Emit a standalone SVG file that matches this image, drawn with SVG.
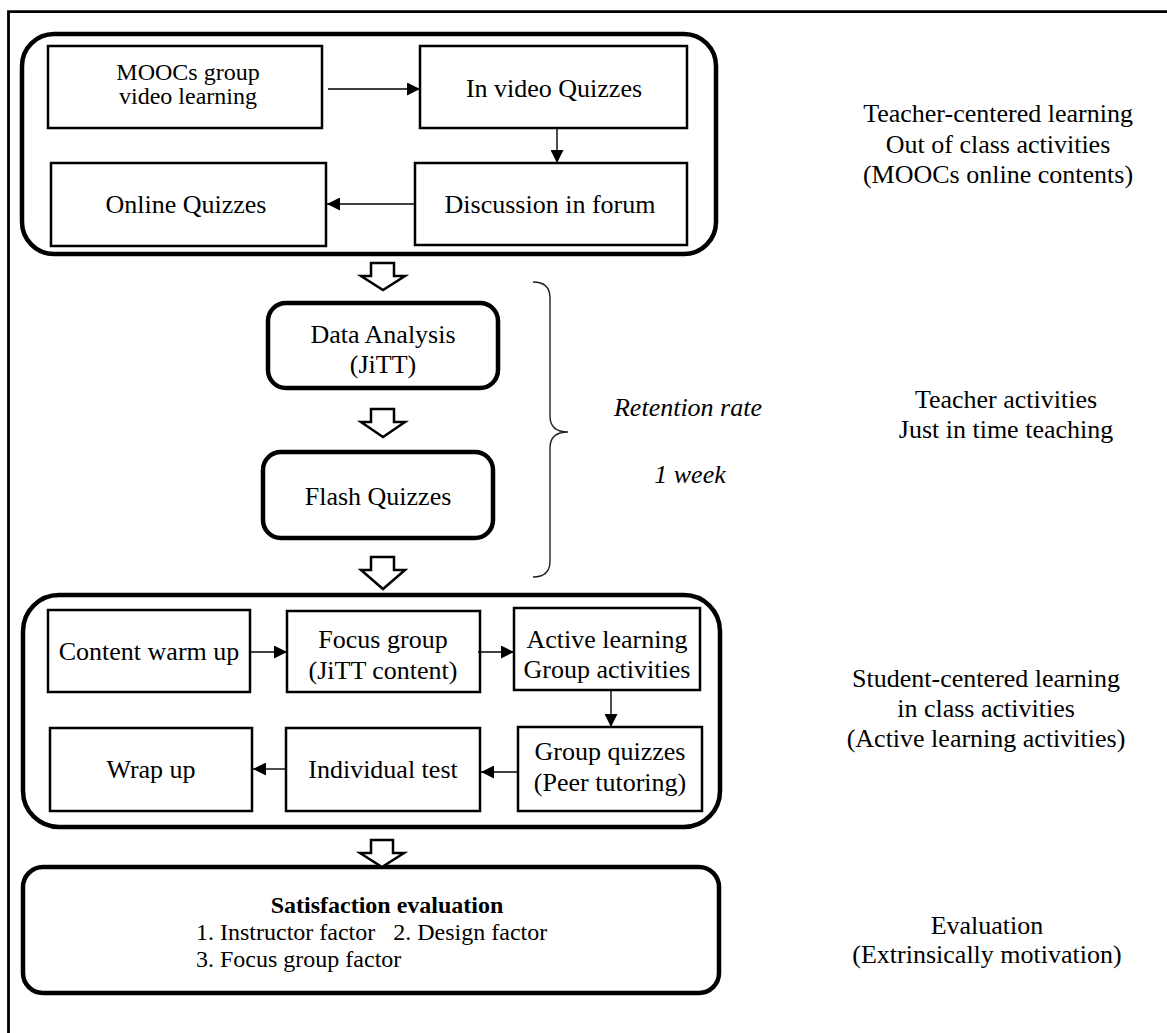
<svg xmlns="http://www.w3.org/2000/svg" width="1167" height="1033" viewBox="0 0 1167 1033">
  <defs>
    <marker id="ah" viewBox="0 0 10 10" refX="10" refY="5" markerWidth="15" markerHeight="13" markerUnits="userSpaceOnUse" orient="auto">
      <path d="M0,0 L10,5 L0,10 Z" fill="#000"/>
    </marker>
    <style>
      text { font-family: "Liberation Serif", "Times New Roman", serif; font-size: 26px; fill: #000; }
      .c { text-anchor: middle; }
      .it { font-style: italic; }
      .b { font-weight: bold; font-size: 24px; }
      .s24 { font-size: 24px; }
      .box { fill: #fff; stroke: #000; stroke-width: 2.5; }
      .rbox { fill: #fff; stroke: #000; stroke-width: 4.5; }
      .cont { fill: none; stroke: #000; stroke-width: 4.5; }
      .link { fill: none; stroke: #000; stroke-width: 1.4; marker-end: url(#ah); }
      .hollow { fill: #fff; stroke: #000; stroke-width: 2.5; stroke-linejoin: miter; }
      .brace { fill: none; stroke: #222; stroke-width: 1.4; }
    </style>
  </defs>

  <rect width="1167" height="1033" fill="#fff"/>

  <!-- page frame (top and left edges) -->
  <path d="M8.5,1033 L8.5,11.7 L1167,11.7" fill="none" stroke="#000" stroke-width="2.8"/>

  <!-- section containers -->
  <rect id="out-of-class" class="cont" x="22" y="34" width="694" height="220" rx="32" ry="32"/>
  <rect id="in-class" class="cont" x="23" y="595" width="697" height="232" rx="36" ry="36"/>

  <!-- out of class activities -->
  <g id="moocs-video">
    <rect class="box" x="48" y="46" width="274" height="82"/>
    <text class="c" x="188" y="80" style="font-size:24px">MOOCs group</text>
    <text class="c" x="188" y="104" style="font-size:24px">video learning</text>
  </g>
  <g id="in-video-quizzes">
    <rect class="box" x="420" y="46" width="267" height="82"/>
    <text class="c" x="554" y="97">In video Quizzes</text>
  </g>
  <g id="discussion-forum">
    <rect class="box" x="415" y="163" width="272" height="82"/>
    <text class="c" x="550" y="213">Discussion in forum</text>
  </g>
  <g id="online-quizzes">
    <rect class="box" x="51" y="163" width="275" height="83"/>
    <text class="c" x="186" y="213">Online Quizzes</text>
  </g>

  <!-- teacher activities -->
  <g id="data-analysis">
    <rect class="rbox" x="268" y="303" width="230" height="85" rx="18" ry="18"/>
    <text class="c" x="383" y="343">Data Analysis</text>
    <text class="c" x="383" y="373">(JiTT)</text>
  </g>
  <g id="flash-quizzes">
    <rect class="rbox" x="263" y="452" width="230" height="86" rx="18" ry="18"/>
    <text class="c" x="378" y="505">Flash Quizzes</text>
  </g>

  <!-- in class activities -->
  <g id="content-warm-up">
    <rect class="box" x="48" y="610" width="202" height="82"/>
    <text class="c" x="149" y="660">Content warm up</text>
  </g>
  <g id="focus-group">
    <rect class="box" x="287" y="611" width="193" height="81"/>
    <text class="c" x="383" y="648">Focus group</text>
    <text class="c" x="383" y="679">(JiTT content)</text>
  </g>
  <g id="active-learning">
    <rect class="box" x="514" y="608" width="186" height="82"/>
    <text class="c" x="607" y="648">Active learning</text>
    <text class="c" x="607" y="678">Group activities</text>
  </g>
  <g id="group-quizzes">
    <rect class="box" x="518" y="727" width="184" height="84"/>
    <text class="c" x="610" y="760">Group quizzes</text>
    <text class="c" x="610" y="791">(Peer tutoring)</text>
  </g>
  <g id="individual-test">
    <rect class="box" x="286" y="728" width="194" height="83"/>
    <text class="c" x="383" y="778">Individual test</text>
  </g>
  <g id="wrap-up">
    <rect class="box" x="50" y="728" width="202" height="83"/>
    <text class="c" x="151" y="778">Wrap up</text>
  </g>

  <!-- evaluation -->
  <g id="satisfaction-evaluation">
    <rect class="rbox" x="23" y="867" width="696" height="126" rx="20" ry="20"/>
    <text class="c b" x="387" y="913">Satisfaction evaluation</text>
    <text class="s24" x="196" y="940" xml:space="preserve">1. Instructor factor   2. Design factor</text>
    <text class="s24" x="196" y="967">3. Focus group factor</text>
  </g>

  <!-- connectors -->
  <g id="connectors">
    <path class="link" d="M328,89 L420,89"/>
    <path class="link" d="M557,129 L557,163"/>
    <path class="link" d="M414,204 L327,204"/>
    <path class="link" d="M251,652 L287,652"/>
    <path class="link" d="M478,652 L514,652"/>
    <path class="link" d="M611,691 L611,727"/>
    <path class="link" d="M517,772 L481,772"/>
    <path class="link" d="M285,769 L253,769"/>

    <!-- hollow flow arrows between stages -->
    <path class="hollow" d="M371,263 L394,263 L394,276 L405,276 L383,290 L361,276 L371,276 Z"/>
    <path class="hollow" d="M371,409 L394,409 L394,422 L405,422 L383,437 L361,422 L371,422 Z"/>
    <path class="hollow" d="M371,557 L394,557 L394,570 L405,570 L383,589 L361,570 L371,570 Z"/>
    <path class="hollow" d="M371,840 L393,840 L393,853 L404,853 L382,867 L360,853 L371,853 Z"/>
  </g>

  <!-- bracket spanning the teacher activities -->
  <path id="week-brace" class="brace" d="M533,282 Q550,282 550,298 L550,416 Q550,432 568,432 Q550,432 550,448 L550,561 Q550,577 533,577"/>
  <g id="brace-labels">
    <text class="c it" x="688" y="416">Retention rate</text>
    <text class="c it" x="690" y="483">1 week</text>
  </g>

  <!-- stage descriptions -->
  <g id="stage-labels">
    <text class="c" x="998" y="122">Teacher-centered learning</text>
    <text class="c" x="998" y="153">Out of class activities</text>
    <text class="c" x="998" y="183">(MOOCs online contents)</text>

    <text class="c" x="1006" y="408">Teacher activities</text>
    <text class="c" x="1006" y="438">Just in time teaching</text>

    <text class="c" x="986" y="687">Student-centered learning</text>
    <text class="c" x="986" y="717">in class activities</text>
    <text class="c" x="986" y="747">(Active learning activities)</text>

    <text class="c" x="987" y="934">Evaluation</text>
    <text class="c" x="987" y="963">(Extrinsically motivation)</text>
  </g>
</svg>
